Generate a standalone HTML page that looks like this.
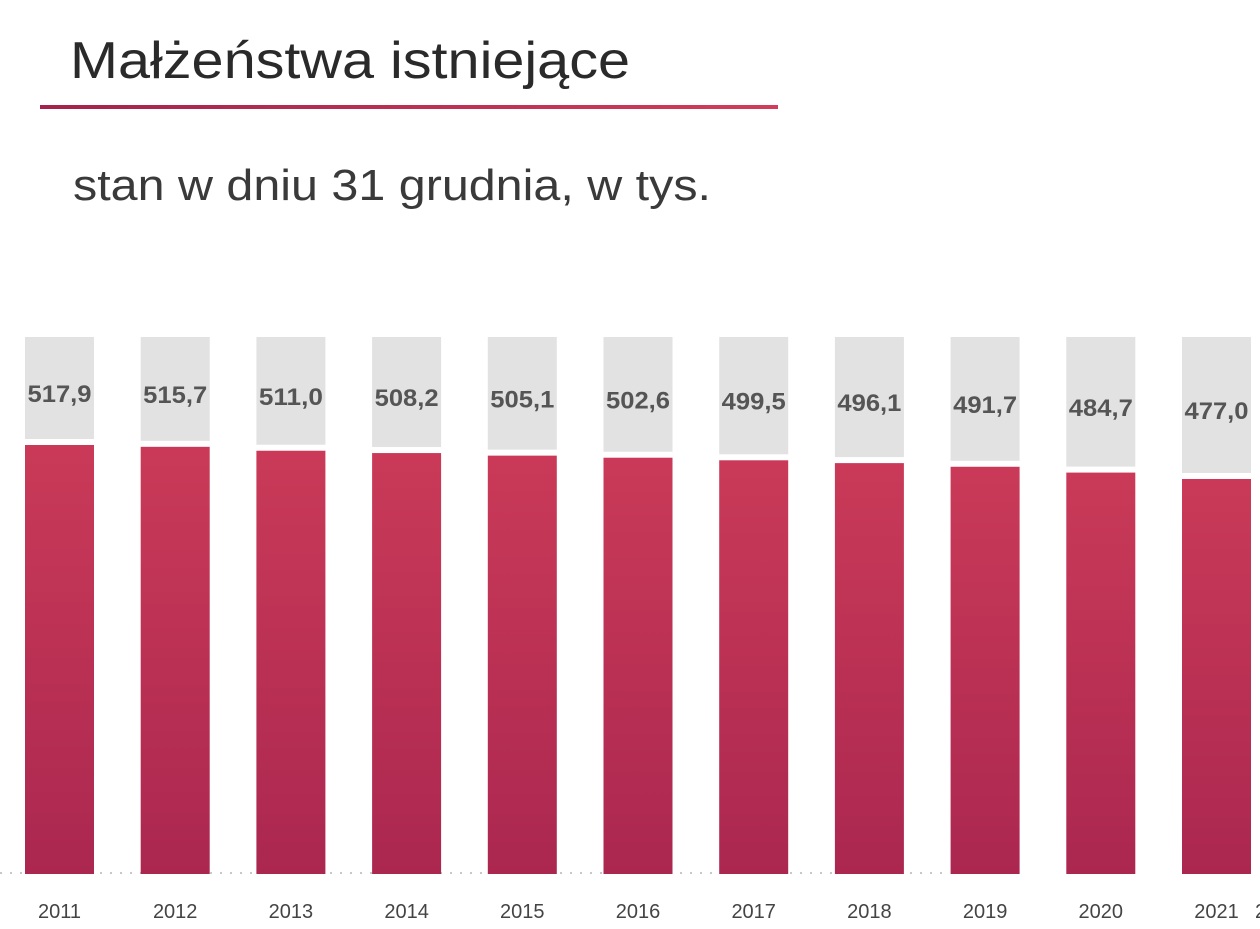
<!DOCTYPE html>
<html><head><meta charset="utf-8"><style>
html,body{margin:0;padding:0;background:#fff;}
svg{display:block;}
</style></head><body>
<svg width="1260" height="929" viewBox="0 0 1260 929" xmlns="http://www.w3.org/2000/svg" font-family="Liberation Sans, sans-serif">
<defs>
<linearGradient id="ln" x1="0" x2="1" y1="0" y2="0"><stop offset="0" stop-color="#a3234c"/><stop offset="1" stop-color="#d23c5a"/></linearGradient>
<linearGradient id="br" x1="0" x2="0" y1="0" y2="1"><stop offset="0" stop-color="#ca3a58"/><stop offset="1" stop-color="#ab2750"/></linearGradient>
</defs>
<text x="70" y="78" font-size="52" fill="#2a2a2a" textLength="560" lengthAdjust="spacingAndGlyphs">Małżeństwa istniejące</text>
<rect x="40" y="105" width="738" height="4" fill="url(#ln)"/>
<text x="73" y="200" font-size="44" fill="#3a3a3a" textLength="638" lengthAdjust="spacingAndGlyphs">stan w dniu 31 grudnia, w tys.</text>
<line x1="0" y1="873" x2="945" y2="873" stroke="#c8c8c8" stroke-width="2" stroke-dasharray="2,8"/>
<g id="bars"></g>
<text x="1255" y="918" font-size="20" fill="#444">2</text>
</svg>
<script>
var vals=[517.9,515.7,511.0,508.2,505.1,502.6,499.5,496.1,491.7,484.7,477.0];
var g=document.getElementById('bars'),s='';
vals.forEach(function(v,i){
 var x=25+i*115.7, top=445+(517.9-v)*0.831, cx=x+34.5;
 s+='<rect x="'+x+'" y="337" width="69" height="'+(top-6-337)+'" fill="#e2e2e2"/>';
 s+='<rect x="'+x+'" y="'+top+'" width="69" height="'+(874-top)+'" fill="url(#br)"/>';
 s+='<text x="'+cx+'" y="'+((337+top-6)/2+14)+'" font-size="24" font-weight="bold" fill="#555" text-anchor="middle" textLength="64" lengthAdjust="spacingAndGlyphs">'+v.toFixed(1).replace('.',',')+'</text>';
 s+='<text x="'+cx+'" y="918" font-size="20" fill="#444" text-anchor="middle">'+(2011+i)+'</text>';
});
g.innerHTML=s;
</script>
</body></html>
